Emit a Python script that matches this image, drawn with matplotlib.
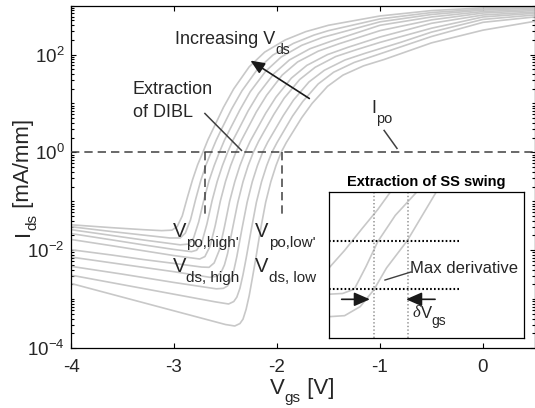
import matplotlib
matplotlib.use("Agg")
import matplotlib.pyplot as plt
import numpy as np
from matplotlib.ticker import FixedLocator, LogLocator, NullFormatter

plt.rcParams.update({
    "font.family": ["Liberation Sans", "DejaVu Sans"],
    "mathtext.fontset": "custom",
    "mathtext.rm": "Liberation Sans",
    "mathtext.it": "Liberation Sans:italic",
    "mathtext.bf": "Liberation Sans:bold",
    "axes.unicode_minus": False,
    "lines.scale_dashes": False,
})

# ---------------- data: transfer curves (Vgs [V], log10 Ids [mA/mm]) ----------------
# curve 0 = lowest Vds ... curve 9 = highest Vds
VGS_0 = [-4, -3.5, -3.0, -2.5, -2.41, -2.36, -2.33, -2.30, -2.27, -2.24, -2.21, -2.16, -2.11, -2.06,
         -2.01, -1.96, -1.91, -1.86, -1.76, -1.66, -1.51, -1.36, -1.16, -0.96, -0.5, 0, 0.5]
LOG_IDS_0 = [-2.68, -2.96, -3.24, -3.52, -3.55, -3.50, -3.41, -3.21, -2.93, -2.58, -2.22, -1.58, -1.02, -0.60,
             -0.27, 0.0, 0.20, 0.37, 0.71, 1.00, 1.35, 1.58, 1.77, 1.90, 2.24, 2.50, 2.68]

VGS_1 = [-4, -3.5, -3.0, -2.6, -2.47, -2.42, -2.39, -2.36, -2.33, -2.30, -2.25, -2.20, -2.15, -2.10,
         -2.05, -2.00, -1.95, -1.85, -1.75, -1.60, -1.45, -1.25, -1.05, -0.5, 0, 0.5]
LOG_IDS_1 = [-2.51, -2.705, -2.90, -3.056, -3.10, -3.05, -2.96, -2.78, -2.50, -2.17, -1.58, -1.02, -0.60, -0.27,
             0.0, 0.20, 0.38, 0.74, 1.04, 1.40, 1.64, 1.84, 1.98, 2.37, 2.66, 2.77]

VGS_2 = [-4, -3.5, -3.0, -2.59, -2.52, -2.48, -2.45, -2.42, -2.39, -2.34, -2.29, -2.24, -2.19, -2.14,
         -2.09, -2.04, -1.94, -1.84, -1.69, -1.54, -1.34, -1.14, -0.8, -0.5, 0, 0.5]
LOG_IDS_2 = [-2.33, -2.49, -2.66, -2.79, -2.78, -2.73, -2.61, -2.42, -2.13, -1.56, -1.02, -0.60, -0.27, 0.0,
             0.21, 0.39, 0.75, 1.07, 1.44, 1.68, 1.89, 2.03, 2.25, 2.46, 2.72, 2.81]

VGS_3 = [-4, -3.5, -3.0, -2.65, -2.58, -2.54, -2.51, -2.48, -2.43, -2.38, -2.33, -2.28, -2.23, -2.18,
         -2.13, -2.03, -1.93, -1.78, -1.63, -1.43, -1.23, -1.0, -0.5, 0, 0.5]
LOG_IDS_3 = [-2.14, -2.29, -2.44, -2.555, -2.53, -2.44, -2.30, -2.07, -1.54, -1.02, -0.60, -0.27, 0.0, 0.22,
             0.41, 0.78, 1.11, 1.49, 1.74, 1.96, 2.10, 2.25, 2.54, 2.77, 2.845]

VGS_4 = [-4, -3.6, -3.3, -3.0, -2.73, -2.66, -2.61, -2.56, -2.51, -2.46, -2.41, -2.36, -2.31, -2.26,
         -2.21, -2.11, -2.01, -1.86, -1.71, -1.51, -1.31, -1.0, -0.5, 0, 0.5]
LOG_IDS_4 = [-1.99, -2.10, -2.19, -2.27, -2.345, -2.35, -2.26, -2.00, -1.52, -1.00, -0.60, -0.27, 0.0, 0.23,
             0.42, 0.80, 1.13, 1.52, 1.78, 2.00, 2.15, 2.36, 2.64, 2.81, 2.87]

VGS_5 = [-4, -3.6, -3.3, -3.0, -2.75, -2.70, -2.65, -2.60, -2.55, -2.50, -2.45, -2.40, -2.35, -2.30,
         -2.20, -2.10, -1.95, -1.80, -1.60, -1.40, -1.0, -0.5, 0, 0.5]
LOG_IDS_5 = [-1.78, -1.91, -2.01, -2.11, -2.18, -2.13, -1.92, -1.50, -0.995, -0.595, -0.27, 0.0, 0.23, 0.43,
             0.83, 1.17, 1.58, 1.85, 2.07, 2.22, 2.49, 2.71, 2.85, 2.90]

VGS_6 = [-4, -3.6, -3.3, -3.0, -2.83, -2.78, -2.73, -2.68, -2.63, -2.58, -2.53, -2.48, -2.43, -2.38,
         -2.28, -2.18, -2.03, -1.88, -1.68, -1.48, -1.0, -0.5, 0, 0.5]
LOG_IDS_6 = [-1.66, -1.79, -1.89, -1.985, -2.03, -2.00, -1.84, -1.46, -0.985, -0.59, -0.27, 0.0, 0.24, 0.44,
             0.85, 1.20, 1.61, 1.89, 2.12, 2.27, 2.60, 2.77, 2.88, 2.925]

VGS_7 = [-4, -3.6, -3.3, -2.94, -2.86, -2.81, -2.76, -2.71, -2.66, -2.61, -2.56, -2.51, -2.46, -2.36,
         -2.26, -2.11, -1.96, -1.76, -1.56, -1.0, -0.5, 0, 0.5]
LOG_IDS_7 = [-1.58, -1.70, -1.79, -1.89, -1.875, -1.75, -1.42, -0.97, -0.58, -0.27, 0.0, 0.25, 0.46, 0.87,
             1.24, 1.66, 1.95, 2.19, 2.35, 2.67, 2.82, 2.91, 2.95]

VGS_8 = [-4, -3.6, -3.3, -3.04, -2.94, -2.89, -2.84, -2.79, -2.74, -2.69, -2.64, -2.59, -2.54, -2.44,
         -2.34, -2.19, -2.04, -1.84, -1.64, -1.5, -1.0, -0.5, 0, 0.5]
LOG_IDS_8 = [-1.52, -1.62, -1.69, -1.75, -1.75, -1.65, -1.38, -0.96, -0.575, -0.26, 0.0, 0.25, 0.47, 0.89,
             1.26, 1.70, 1.99, 2.23, 2.40, 2.49, 2.73, 2.86, 2.93, 2.97]

VGS_9 = [-4, -3.6, -3.3, -3.12, -3.02, -2.97, -2.92, -2.87, -2.82, -2.77, -2.72, -2.67, -2.62, -2.52,
         -2.42, -2.27, -2.12, -1.92, -1.72, -1.5, -1.0, -0.5, 0, 0.5]
LOG_IDS_9 = [-1.48, -1.54, -1.58, -1.60, -1.59, -1.52, -1.30, -0.92, -0.56, -0.25, 0.0, 0.26, 0.48, 0.92,
             1.30, 1.75, 2.05, 2.30, 2.47, 2.60, 2.79, 2.90, 2.955, 2.99]

# extraction markers
I_PO = 1.0                      # mA/mm
V_PO_HIGH = -2.70
V_PO_LOW = -1.95
V_PO_MARK_BOTTOM = 10 ** -1.29

X_TICKS = [-4, -3, -2, -1, 0]
Y_TICKS = [1e-4, 1e-2, 1e0, 1e2]

# inset (zoom of one curve, normalised coordinates)
INSET_A_X = [0.0, 0.08, 0.17, 0.25, 0.315]
INSET_A_Y = [0.48, 0.60, 0.75, 0.88, 1.0]
INSET_B_X = [0.0, 0.07, 0.13, 0.19, 0.25, 0.34, 0.45]
INSET_B_Y = [0.30, 0.305, 0.335, 0.49, 0.66, 0.84, 1.0]
INSET_C_X = [0.0, 0.08, 0.16, 0.23, 0.295, 0.40, 0.55]
INSET_C_Y = [0.146, 0.153, 0.215, 0.33, 0.48, 0.664, 1.0]
INSET_LEVELS = [0.334, 0.664]
INSET_VLINES = [0.232, 0.404]

CURVES = [(VGS_0, LOG_IDS_0), (VGS_1, LOG_IDS_1), (VGS_2, LOG_IDS_2), (VGS_3, LOG_IDS_3),
          (VGS_4, LOG_IDS_4), (VGS_5, LOG_IDS_5), (VGS_6, LOG_IDS_6), (VGS_7, LOG_IDS_7),
          (VGS_8, LOG_IDS_8), (VGS_9, LOG_IDS_9)]

TEXT = "#262626"
CURVE = "#c8c8c8"
DARK = "#404040"


def chain(ax, x, y, parts, transform, rotation=0, color=TEXT):
    """Draw text pieces one after the other; each piece may be dropped (subscript)."""
    s, fs, drop, kw = parts[0]
    if rotation == 0:
        prev = ax.text(x, y, s, fontsize=fs, color=color, transform=transform,
                       ha="left", va="baseline", **kw)
    else:
        prev = ax.text(x, y, s, fontsize=fs, color=color, transform=transform,
                       ha="left", va="bottom", rotation=90, **kw)
    prev_drop = drop
    for s, fs, drop, kw in parts[1:]:
        dd = drop - prev_drop
        if rotation == 0:
            prev = ax.annotate(s, xy=(1, 0), xycoords=prev, xytext=(0, -dd),
                               textcoords="offset points", ha="left", va="bottom",
                               fontsize=fs, color=color, annotation_clip=False, **kw)
        else:
            prev = ax.annotate(s, xy=(1, 1), xycoords=prev, xytext=(dd, 0),
                               textcoords="offset points", ha="right", va="bottom",
                               rotation=90, fontsize=fs, color=color,
                               annotation_clip=False, **kw)
        prev_drop = drop
    return prev


fig = plt.figure(figsize=(5.35, 4.08), dpi=100)
ax = fig.add_axes([71 / 535, 1 - 348 / 408, (534.5 - 71) / 535, (348 - 5.7) / 408])

for vgs, lg in CURVES:
    ax.plot(vgs, 10 ** np.array(lg), color=CURVE, lw=1.2, solid_joinstyle="round", zorder=2)

ax.axhline(I_PO, color=DARK, lw=1.1, dashes=(6, 3.6), zorder=3)
for v in (V_PO_HIGH, V_PO_LOW):
    ax.plot([v, v], [I_PO, V_PO_MARK_BOTTOM], color=DARK, lw=1.1, dashes=(6, 3.6), zorder=3)

ax.set_xscale("linear")
ax.set_yscale("log")
ax.set_xlim(-4, 0.5)
ax.set_ylim(1e-4, 1e3)
ax.xaxis.set_major_locator(FixedLocator(X_TICKS))
ax.set_xticklabels([str(t) for t in X_TICKS])
ax.yaxis.set_major_locator(FixedLocator(Y_TICKS))
ax.yaxis.set_minor_locator(LogLocator(base=10, subs=np.arange(1, 10), numticks=50))
ax.yaxis.set_minor_formatter(NullFormatter())
ax.tick_params(which="both", direction="in", top=True, right=True, colors="black",
               labelcolor=TEXT, labelsize=13.5, width=0.8)
ax.tick_params(which="major", length=3.6)
ax.tick_params(which="minor", length=2.0)
ax.tick_params(axis="x", pad=8)
ax.tick_params(axis="y", pad=4.5)
for sp in ax.spines.values():
    sp.set_linewidth(0.9)

# axis labels
chain(ax, 270 / 535, 1 - 394 / 408,
      [("V", 16, 0, {}), ("gs", 11, 4, {}), (" [V]", 16, 0, {})], fig.transFigure)
chain(ax, 13 / 535, 1 - 236 / 408,
      [("I", 16, 0, {}), ("ds", 11, 4, {}), (" [mA/mm]", 16, 0, {})], fig.transFigure, rotation=90)

# annotations
chain(ax, -2.993, 10 ** 2.224, [("Increasing V", 13, 0, {}), ("ds", 10, 6.5, {})], ax.transData)
ax.annotate("", xy=(-2.258, 10 ** 1.878), xytext=(-1.686, 10 ** 1.102),
            arrowprops=dict(arrowstyle="-|>,head_length=0.7,head_width=0.3", color="#1a1a1a",
                            lw=1.2, shrinkA=0, shrinkB=0, mutation_scale=12))
ax.text(-3.40, 10 ** 1.204, "Extraction", fontsize=13, color=TEXT, ha="left", va="baseline")
ax.text(-3.40, 10 ** 0.714, "of DIBL", fontsize=13, color=TEXT, ha="left", va="baseline")
ax.plot([-2.70, -2.345], [10 ** 0.796, 10 ** 0.041], color=DARK, lw=1.1)

chain(ax, -1.086, 10 ** 0.796, [("I", 13, 0, {}), ("po", 10.5, 6, {})], ax.transData)
ax.plot([-0.96, -0.835], [10 ** 0.449, 10 ** 0.082], color=DARK, lw=1.1)

chain(ax, -3.013, 10 ** -1.735, [("V", 14.5, 0, {}), ("po,high'", 11, 6.5, {})], ax.transData)
chain(ax, -3.013, 10 ** -2.45, [("V", 14.5, 0, {}), ("ds, high", 11, 6.0, {})], ax.transData)
chain(ax, -2.21, 10 ** -1.735, [("V", 14.5, 0, {}), ("po,low'", 11, 6.5, {})], ax.transData)
chain(ax, -2.21, 10 ** -2.45, [("V", 14.5, 0, {}), ("ds, low", 11, 6.0, {})], ax.transData)

# ---------------- inset ----------------
ins = fig.add_axes([329 / 535, 1 - 338 / 408, 195 / 535, 146 / 408])
ins.set_xlim(0, 1)
ins.set_ylim(0, 1)
ins.set_xticks([])
ins.set_yticks([])
for sp in ins.spines.values():
    sp.set_linewidth(0.9)
ins.set_facecolor("white")
for xs, ys in ((INSET_A_X, INSET_A_Y), (INSET_B_X, INSET_B_Y), (INSET_C_X, INSET_C_Y)):
    ins.plot(xs, ys, color=CURVE, lw=1.2)
for lv in INSET_LEVELS:
    ins.plot([0, 0.668], [lv, lv], color="black", lw=1.5, dashes=(1.2, 1.6))
for vx in INSET_VLINES:
    ins.plot([vx, vx], [0, 1], color="#a0a0a0", lw=1.3, dashes=(1.0, 1.6))
ins.set_title("Extraction of SS swing", fontsize=10.5, fontweight="bold", color="black", pad=4)
ins.text(0.415, 0.445, "Max derivative", fontsize=12, color=TEXT, ha="left", va="baseline")
ins.plot([0.287, 0.42], [0.397, 0.452], color=DARK, lw=1.0)
ins.annotate("", xy=(0.21, 0.265), xytext=(0.065, 0.265),
             arrowprops=dict(arrowstyle="-|>,head_length=0.8,head_width=0.35", color="#1a1a1a",
                             lw=1.2, shrinkA=0, shrinkB=0, mutation_scale=12))
ins.annotate("", xy=(0.395, 0.265), xytext=(0.544, 0.265),
             arrowprops=dict(arrowstyle="-|>,head_length=0.8,head_width=0.35", color="#1a1a1a",
                             lw=1.2, shrinkA=0, shrinkB=0, mutation_scale=12))
chain(ins, 0.43, 0.144,
      [("δ", 12, 0, {"family": "Liberation Serif", "style": "italic"}),
       ("V", 12, 0, {}), ("gs", 10, 5, {})], ins.transData)

fig.savefig("out.png", dpi=100)
